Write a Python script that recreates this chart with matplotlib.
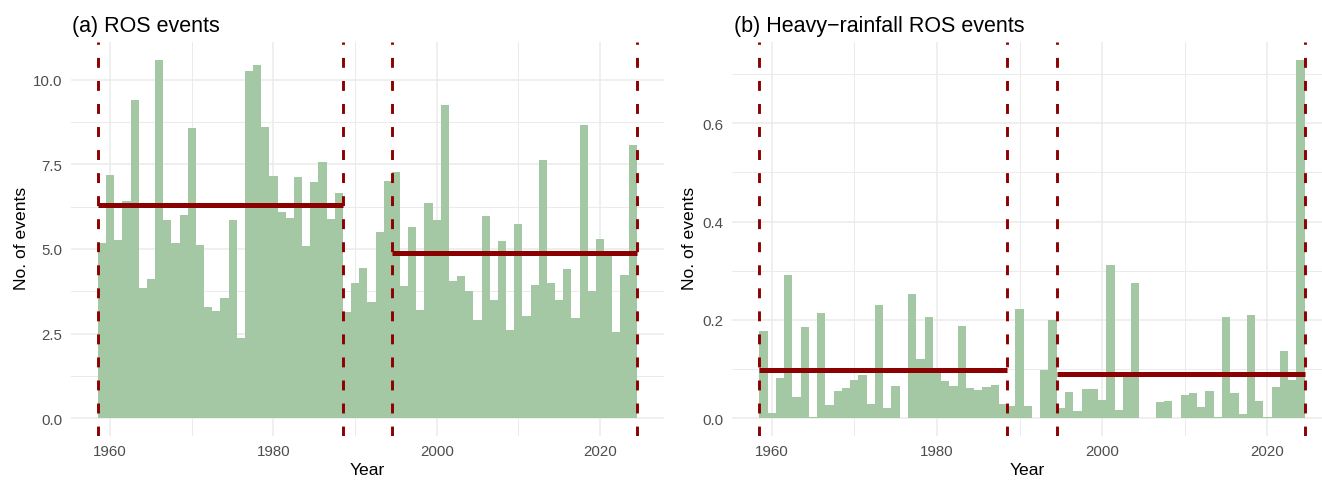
import numpy as np
import matplotlib
matplotlib.use("Agg")
from matplotlib import pyplot as plt

# ---- data ----
years = np.arange(1959, 2025)

ros_events = [
    5.18, 7.19, 5.27, 6.42, 9.41, 3.85, 4.11, 10.59, 5.86, 5.19,
    6.01, 8.58, 5.12, 3.29, 3.17, 3.55, 5.86, 2.37, 10.27, 10.44,
    8.61, 7.16, 6.09, 5.92, 7.13, 5.09, 6.98, 7.57, 5.89, 6.66,
    3.14, 4.00, 4.44, 3.43, 5.50, 7.01,
    7.28, 3.91, 5.65, 3.20, 6.36, 5.86, 9.26, 4.05, 4.20, 3.76,
    2.90, 5.98, 3.49, 5.24, 2.60, 5.74, 3.02, 3.93, 7.63, 4.00,
    3.49, 4.41, 2.96, 8.67, 3.76, 5.30, 4.85, 2.54, 4.23, 8.08,
]

heavy_ros_events = [
    0.177, 0.010, 0.081, 0.291, 0.043, 0.185, 0.002, 0.214, 0.027, 0.055,
    0.061, 0.077, 0.088, 0.029, 0.230, 0.020, 0.065, 0.000, 0.253, 0.120,
    0.205, 0.092, 0.075, 0.065, 0.187, 0.061, 0.057, 0.063, 0.067, 0.029,
    0.024, 0.222, 0.024, 0.000, 0.098, 0.200,
    0.020, 0.053, 0.014, 0.059, 0.059, 0.037, 0.312, 0.016, 0.083, 0.275,
    0.001, 0.000, 0.033, 0.035, 0.000, 0.047, 0.051, 0.022, 0.055, 0.002,
    0.205, 0.051, 0.008, 0.209, 0.035, 0.002, 0.063, 0.136, 0.077, 0.729,
]

periods = [(1959, 1988), (1995, 2024)]
titles = ["(a) ROS events", "(b) Heavy\u2212rainfall ROS events"]

# ---- style ----
W, H = 1322, 481
bar_col = "#A5C8A4"
red = "#8B0000"
grid_col = "#EBEBEB"
txt_grey = "#4D4D4D"
plt.rcParams["font.family"] = ["Liberation Sans", "DejaVu Sans"]

fig = plt.figure(figsize=(W / 100, H / 100), dpi=100)


def px_axes(l, r, t, b):
    return fig.add_axes([l / W, 1 - b / H, (r - l) / W, (b - t) / H])


panels = [
    dict(box=(71, 663.7, 43, 437), data=ros_events, right=2027.8,
         yticks=np.arange(0, 10.1, 2.5), yminor=np.arange(1.25, 11, 2.5),
         ylab_x=21.5),
    dict(box=(732, 1322, 43, 437), data=heavy_ros_events, right=2026.6,
         yticks=np.arange(0, 0.61, 0.2), yminor=np.arange(0.1, 0.75, 0.2),
         ylab_x=689),
]

for p, title in zip(panels, titles):
    ax = px_axes(*p["box"])
    vals = np.array(p["data"])
    ax.bar(years, vals, width=1.0, color=bar_col, linewidth=0, zorder=2)

    for start, end in periods:
        sel = (years >= start) & (years <= end)
        m = vals[sel].mean()
        ax.hlines(m, start - 0.5, end + 0.5, color=red, linewidth=3.6, zorder=3)
    bounds = sorted({s - 0.5 for s, e in periods} | {e + 0.5 for s, e in periods})
    for b in bounds:
        ax.axvline(b, color=red, linewidth=2.1, linestyle=(0, (3.4, 4.5)),
                   dash_capstyle="butt", zorder=4)

    vmax = vals.max()
    ax.set_ylim(-0.05 * vmax, 1.05 * vmax)
    ax.set_xlim(1955.2, p["right"])

    ax.set_xticks([1960, 1980, 2000, 2020])
    ax.set_xticks([1970, 1990, 2010], minor=True)
    ax.set_yticks(p["yticks"])
    ax.set_yticks(p["yminor"], minor=True)
    ax.set_yticklabels([f"{v:.1f}" for v in p["yticks"]])

    ax.grid(which="major", color=grid_col, linewidth=1.1, zorder=0)
    ax.grid(which="minor", color=grid_col, linewidth=0.7, zorder=0)
    ax.set_axisbelow(True)
    for s in ax.spines.values():
        s.set_visible(False)
    ax.tick_params(which="both", length=0)
    ax.tick_params(axis="x", labelsize=10.8, labelcolor=txt_grey, pad=5.5)
    ax.tick_params(axis="y", labelsize=10.8, labelcolor=txt_grey, pad=6.3)

    l, r, t, b = p["box"]
    fig.text((l + 1.5) / W, 1 - 32 / H, title, fontsize=15.5, ha="left",
             va="baseline")
    fig.text((l + r) / 2 / W, 1 - 471 / H, "Year", fontsize=12.6,
             ha="center", va="center")
    fig.text(p["ylab_x"] / W, 1 - 238 / H, "No. of events", fontsize=12.6,
             rotation=90, ha="center", va="center")

fig.savefig("out.png", dpi=100)
